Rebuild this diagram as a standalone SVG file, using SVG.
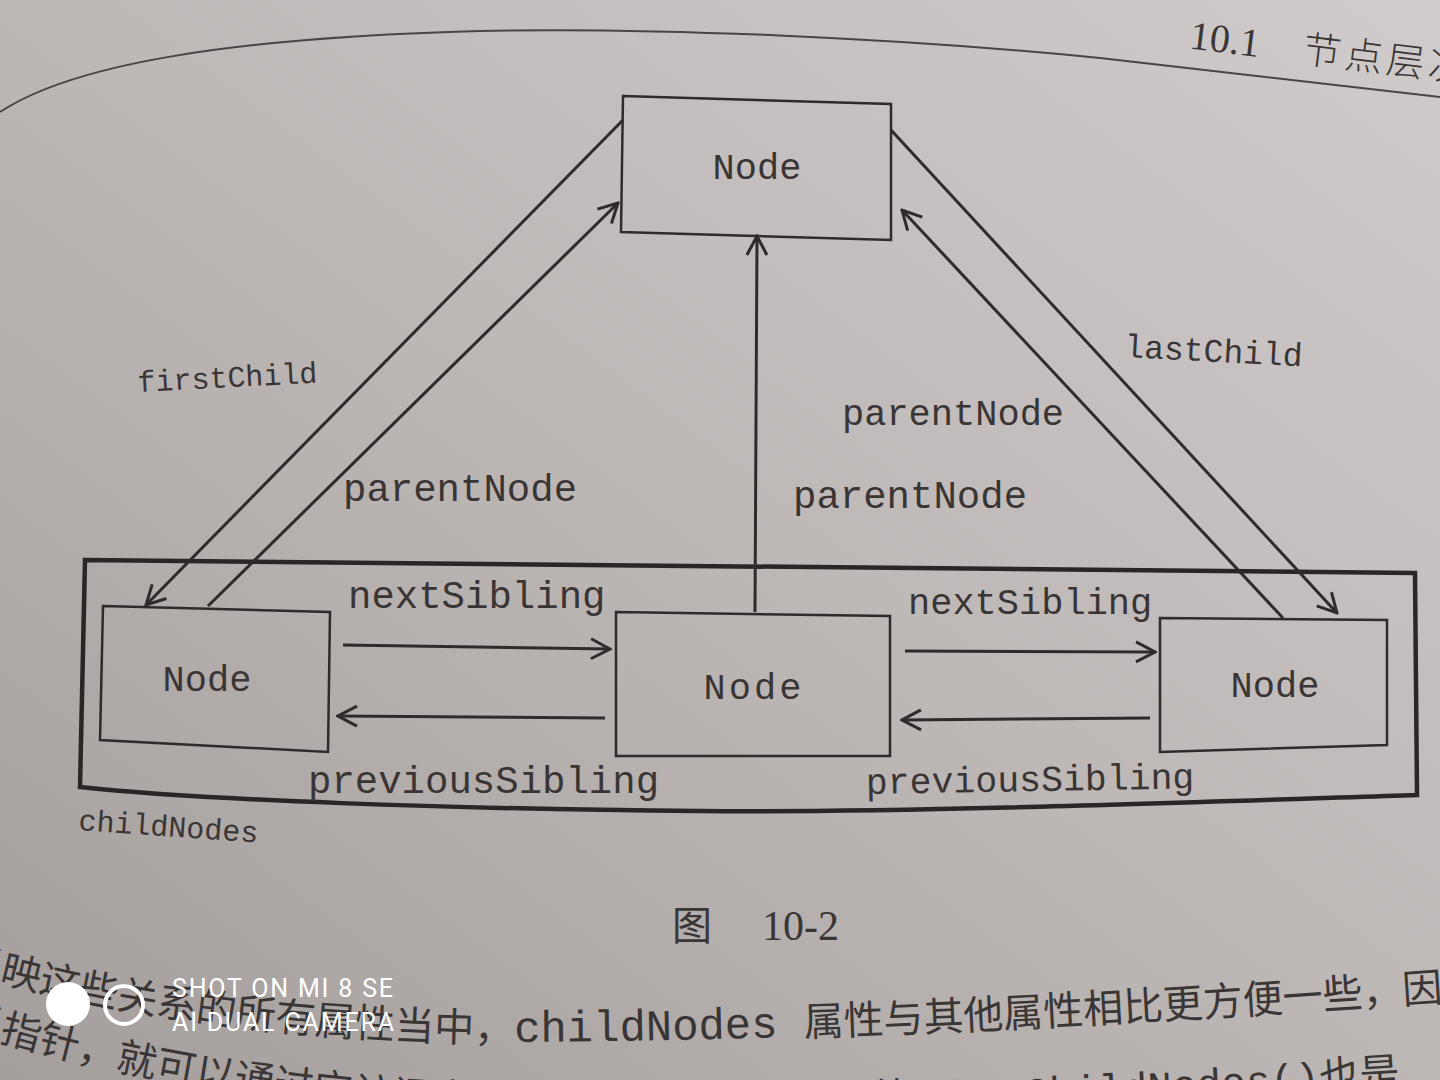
<svg xmlns="http://www.w3.org/2000/svg" width="1440" height="1080" viewBox="0 0 1440 1080">
<defs>
  <linearGradient id="bg" x1="1" y1="0" x2="0" y2="1">
    <stop offset="0" stop-color="#d0cccb"/>
    <stop offset="0.5" stop-color="#bdb7b6"/>
    <stop offset="1" stop-color="#a49e9d"/>
  </linearGradient>
  <marker id="arr" viewBox="0 0 24 24" refX="22" refY="12" markerWidth="24" markerHeight="24" markerUnits="userSpaceOnUse" orient="auto">
    <path d="M3,2 L22,12 L3,22" fill="none" stroke="#2f2b2b" stroke-width="3"/>
  </marker>
  <path id="line1" d="M-40,972 C60,998 200,1035 470,1042 C800,1042 1100,1025 1460,1000"/>
  <path id="line2" d="M-40,1030 C60,1058 200,1100 470,1114 C800,1122 1100,1105 1460,1082"/>
  <style>
    .box{fill:none;stroke:#2f2b2b;stroke-width:2.5;stroke-linejoin:miter}
    .con{fill:none;stroke:#2f2b2b;stroke-width:3}
    .mono{font-family:"Liberation Mono","DejaVu Sans Mono",monospace;fill:#3a3535}
    .lbl{font-size:39px}
    .node{font-size:37px;text-anchor:middle}
    .cjk{font-family:"Noto Sans CJK SC","Noto Sans CJK JP",sans-serif;fill:#3b3636}
    .serif{font-family:"Liberation Serif","DejaVu Serif",serif;fill:#3b3636}
    .wm{font-family:Roboto,"Liberation Sans",sans-serif;fill:#ffffff;font-size:25px}
  </style>
</defs>
<rect x="0" y="0" width="1440" height="1080" fill="url(#bg)"/>

<!-- page edge / header rule -->
<path d="M0,112 C70,66 220,38 480,31 C650,27 900,38 1100,58 L1440,97" fill="none" stroke="#4a4544" stroke-width="2"/>
<g id="header" transform="rotate(7 1300 60)">
  <text class="serif" x="1188" y="62" font-size="40">10.1</text>
  <text class="cjk" x="1302" y="62" font-size="38" font-weight="300" letter-spacing="4">节点层次</text>
</g>

<!-- container -->
<g id="childNodes">
  <path d="M85,560 L1415,573 L1417,795 C1200,802 900,813 700,811 C450,809 200,800 80,787 Z" fill="none" stroke="#2a2626" stroke-width="4.5"/>
  <text class="mono" x="78" y="830" font-size="30" transform="rotate(4 78 830)">childNodes</text>
</g>

<!-- connectors -->
<g id="connectors">
  <line class="con" x1="623" y1="120" x2="146" y2="605" marker-end="url(#arr)"/>
  <line class="con" x1="208" y1="606" x2="618" y2="203" marker-end="url(#arr)"/>
  <line class="con" x1="755" y1="612" x2="757" y2="236" marker-end="url(#arr)"/>
  <line class="con" x1="1283" y1="618" x2="902" y2="210" marker-end="url(#arr)"/>
  <line class="con" x1="891" y1="130" x2="1337" y2="613" marker-end="url(#arr)"/>
  <line class="con" x1="343" y1="645" x2="610" y2="649" marker-end="url(#arr)"/>
  <line class="con" x1="605" y1="718" x2="338" y2="716" marker-end="url(#arr)"/>
  <line class="con" x1="905" y1="651" x2="1155" y2="652" marker-end="url(#arr)"/>
  <line class="con" x1="1150" y1="718" x2="902" y2="720" marker-end="url(#arr)"/>
  <text class="mono" x="138" y="392" font-size="30" fill="#4a4545" transform="rotate(-3 138 392)">firstChild</text>
  <text class="mono lbl" x="343" y="501">parentNode</text>
  <text class="mono lbl" x="793" y="508">parentNode</text>
  <text class="mono" x="842" y="425" font-size="37">parentNode</text>
  <text class="mono" x="1124" y="357" font-size="33" fill="#4a4545" transform="rotate(3 1124 357)">lastChild</text>
  <text class="mono lbl" x="348" y="608" font-size="39.5">nextSibling</text>
  <text class="mono" x="908" y="614" font-size="37">nextSibling</text>
  <text class="mono lbl" x="308" y="793" font-size="39.5">previousSibling</text>
  <text class="mono" x="866" y="794" font-size="36.5" transform="rotate(-1 866 794)">previousSibling</text>
</g>

<!-- nodes -->
<g id="node-top">
  <path class="box" d="M623,96 L891,104 L891,240 L621,232 Z"/>
  <text class="mono node" x="757" y="179">Node</text>
</g>
<g id="node-left">
  <path class="box" d="M103,606 L330,612 L328,752 L100,740 Z"/>
  <text class="mono node" x="207" y="691">Node</text>
</g>
<g id="node-middle">
  <path class="box" d="M616,612 L890,616 L890,756 L616,756 Z"/>
  <text class="mono node" x="754" y="699" font-size="40" letter-spacing="3">Node</text>
</g>
<g id="node-right">
  <path class="box" d="M1160,618 L1387,620 L1387,745 L1160,752 Z"/>
  <text class="mono node" x="1275" y="697" fill="#4a4545">Node</text>
</g>

<!-- caption -->
<g id="caption">
  <text class="cjk" x="672" y="940" font-size="40">图</text>
  <text class="serif" x="762" y="940" font-size="42">10-2</text>
</g>

<!-- body text -->
<g id="body">
  <text class="cjk" font-size="40"><textPath href="#line1">反映这些关系的所有属性当中，<tspan class="mono" font-size="44">childNodes </tspan>属性与其他属性相比更方便一些，因</textPath></text>
  <text class="cjk" font-size="40"><textPath href="#line2">系指针，就可以通过它访问文档树中的任何节点。另外，<tspan class="mono" font-size="41">hasChildNodes()</tspan>也是</textPath></text>
</g>

<!-- camera watermark -->
<g id="watermark">
  <circle cx="68" cy="1004" r="22" fill="#ffffff"/>
  <circle cx="124" cy="1005" r="19" fill="none" stroke="#ffffff" stroke-width="4"/>
  <text class="wm" x="172" y="997" textLength="221">SHOT ON MI 8 SE</text>
  <text class="wm" x="172" y="1031" textLength="222">AI DUAL CAMERA</text>
</g>
</svg>
